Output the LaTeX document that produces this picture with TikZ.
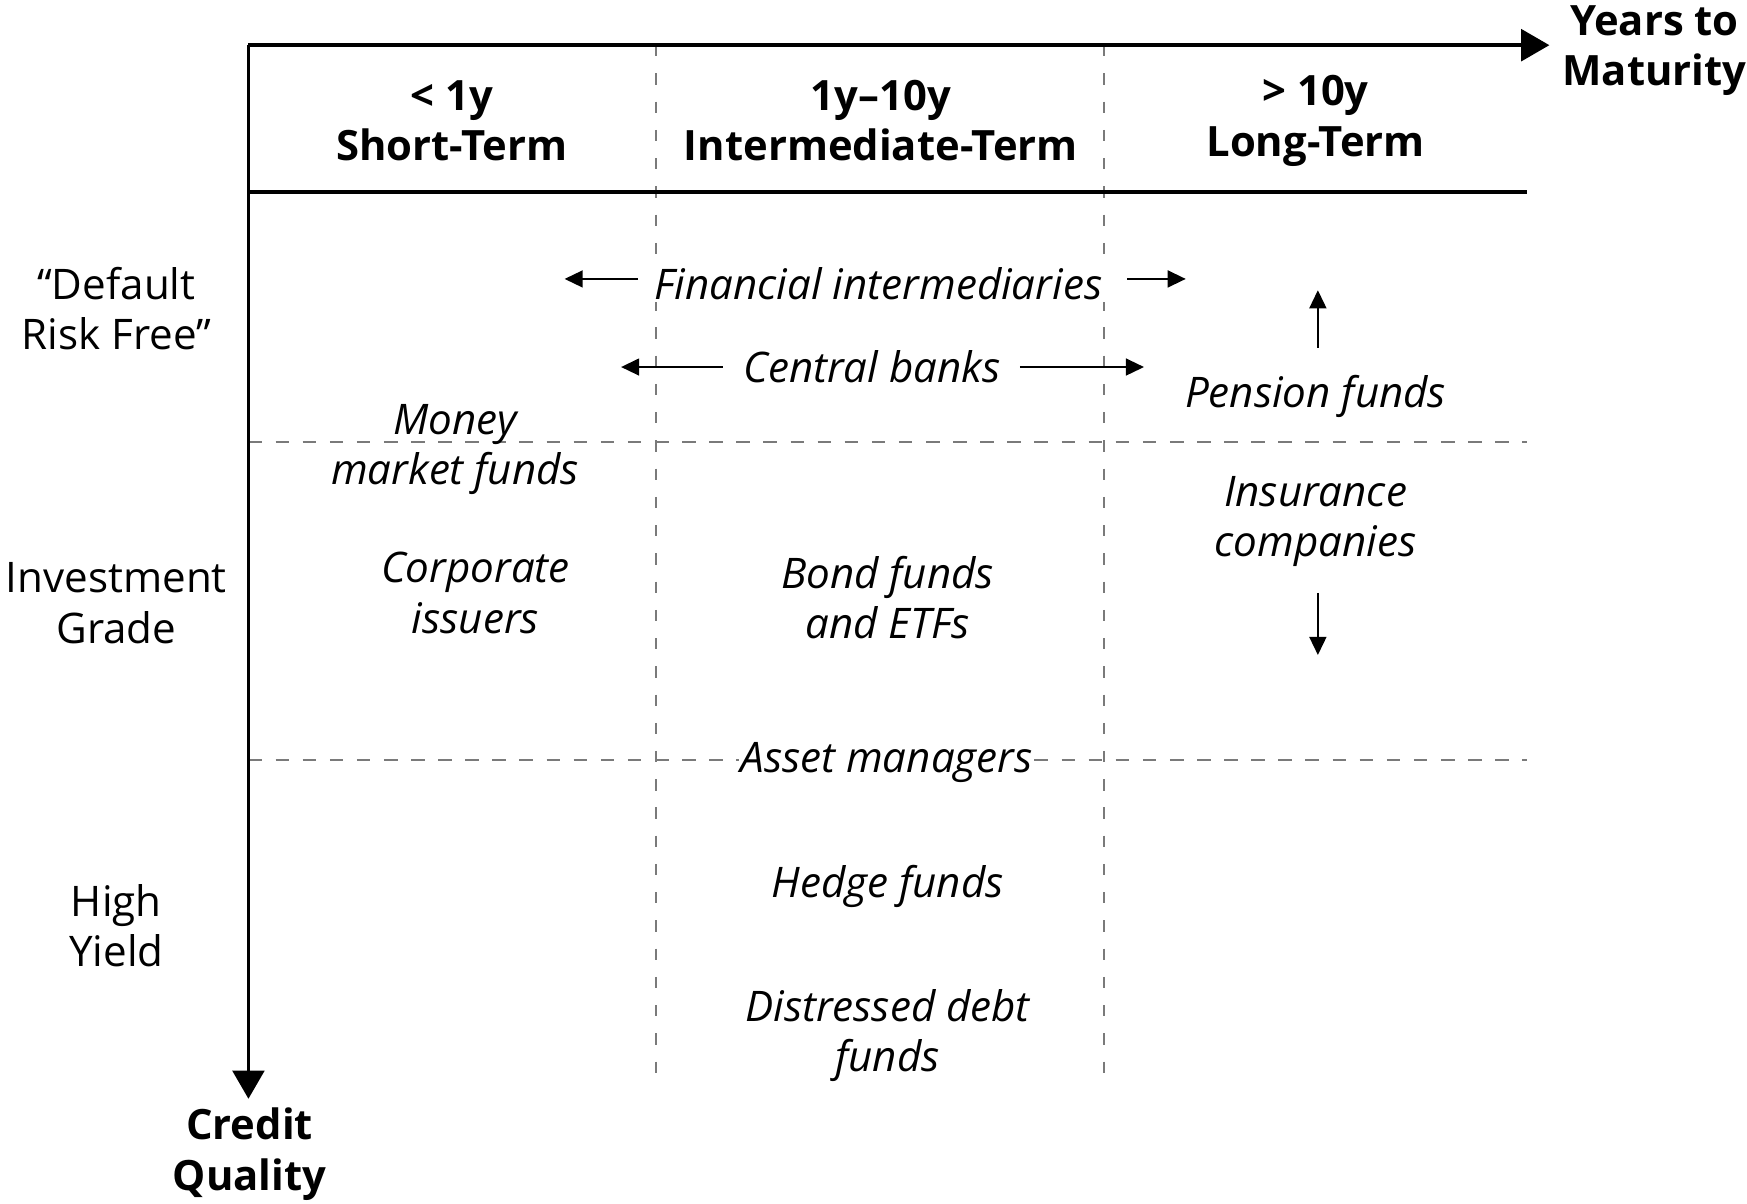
\documentclass[tikz,border=0pt]{standalone}
\usepackage{fontspec}
\setmainfont{Open Sans}
\usetikzlibrary{arrows.meta}
\definecolor{gridgray}{HTML}{7A7A7A}
\begin{document}
\begin{tikzpicture}[x=1pt,y=-1pt,
  txt/.style={align=center, inner sep=2pt, font=\fontsize{37.3}{44.5}\selectfont},
  hd/.style={align=center, inner sep=2pt, font=\fontsize{37}{44.5}\selectfont\bfseries},
  it/.style={align=center, inner sep=2pt, font=\fontsize{37.3}{44.5}\selectfont\itshape},
  axisline/.style={line width=3.3pt, -{Triangle[length=25pt,width=28pt]}},
  sepline/.style={line width=3.2pt},
  gridline/.style={gridgray, line width=1.8pt, dash pattern=on 12pt off 12pt},
  vgridline/.style={gridgray, line width=1.8pt, dash pattern=on 10pt off 15pt},
  arr/.style={line width=1.6pt, -{Triangle[length=16pt,width=15pt]}}
]
\useasboundingbox (0,0) rectangle (1547,1066);

% grid
\coordinate (o) at (220,40);
\coordinate (xe) at (1372,40);
\coordinate (ye) at (220,973);
\coordinate (sepL) at (220,170);
\coordinate (sepR) at (1352,170);
\coordinate (v1t) at (581,40);
\coordinate (v1b) at (581,952);
\coordinate (v2t) at (978,40);
\coordinate (v2b) at (978,952);
\coordinate (h1l) at (220,391);
\coordinate (h1r) at (1352,391);
\coordinate (h2l) at (220,673);
\coordinate (h2r) at (1352,673);

\draw[vgridline] (v1t) -- (v1b);
\draw[vgridline] (v2t) -- (v2b);
\draw[gridline] (h1l) -- (h1r);
\draw[gridline] (h2l) -- (h2r);

% headers
\node[hd] (c1) at (400,107) {< 1y\\Short-Term};
\node[hd] (c2) at (780,107) {1y–10y\\Intermediate-Term};
\node[hd] (c3) at (1165,107) {> 10y\\Long-Term};
\node[hd] (ym) at (1465,45) {Years to\\Maturity};
\node[hd] (cq) at (221,1022) {Credit\\Quality};

% row labels
\node[txt] (r1) at (103,273) {“Default\\Risk Free”};
\node[txt] (r2) at (103,534) {Investment\\Grade};
\node[txt] (r3) at (103,820) {High\\Yield};

% participants
\node[it, fill=white] (fi) at (778,251) {Financial intermediaries};
\node[it] (cb) at (772,325) {Central banks};
\node[it] (pf) at (1165,351) {Pension funds};
\node[it] (mm) at (403,398) {Money\\market funds};
\node[it] (ic) at (1165,462) {Insurance\\companies};
\node[it] (ci) at (421,525) {Corporate\\issuers};
\node[it] (bf) at (786,529) {Bond funds\\and ETFs};
\node[it, fill=white, inner sep=1pt] (am) at (785,675) {Asset managers};
\node[it] (hf) at (786,785) {Hedge funds};
\node[it] (dd) at (786,917) {Distressed debt\\funds};

% arrows
\coordinate (fiLs) at (565,247);
\coordinate (fiLe) at (500,247);
\coordinate (fiRs) at (998,247);
\coordinate (fiRe) at (1050,247);
\coordinate (cbLs) at (640,325);
\coordinate (cbLe) at (550,325);
\coordinate (cbRs) at (903,325);
\coordinate (cbRe) at (1013,325);
\coordinate (pfs) at (1167,308);
\coordinate (pfe) at (1167,257);
\coordinate (ics) at (1167,525);
\coordinate (ice) at (1167,580);
\draw[arr] (fiLs) -- (fiLe);
\draw[arr] (fiRs) -- (fiRe);
\draw[arr] (cbLs) -- (cbLe);
\draw[arr] (cbRs) -- (cbRe);
\draw[arr] (pfs) -- (pfe);
\draw[arr] (ics) -- (ice);

% axes
\draw[sepline] (sepL) -- (sepR);
\draw[axisline] (o) -- (xe);
\draw[axisline] (o) -- (ye);
\end{tikzpicture}
\end{document}
